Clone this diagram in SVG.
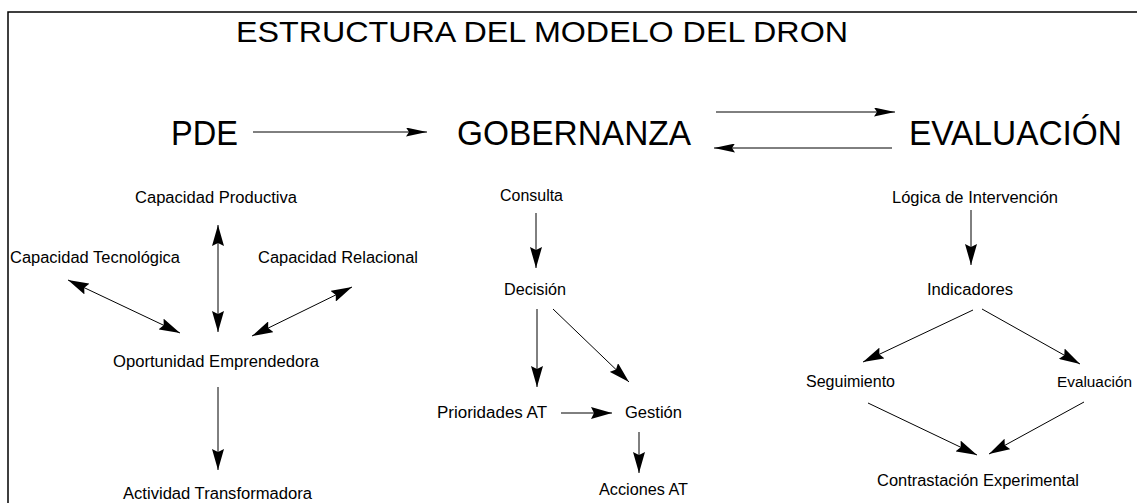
<svg xmlns="http://www.w3.org/2000/svg" width="1137" height="503" viewBox="0 0 1137 503">
<defs>
<style>
text{font-family:"Liberation Sans",Arial,sans-serif;fill:#000}
.t{font-size:30px}
.b{font-size:35px}
.s{font-size:16px}
.c line{stroke:#000;stroke-width:1;fill:none}
.a{marker-end:url(#ah)}
.d{marker-start:url(#ah);marker-end:url(#ah)}
.m{marker-end:url(#ahs)}
</style>
<marker id="ah" markerUnits="userSpaceOnUse" markerWidth="21" markerHeight="12" refX="21" refY="6" orient="auto-start-reverse" viewBox="0 0 21 12">
<path d="M0,0 L21,6 L0,12 L3,6 z" fill="#000"/>
</marker>
<marker id="ahs" markerUnits="userSpaceOnUse" markerWidth="21" markerHeight="9" refX="21" refY="4.5" orient="auto-start-reverse" viewBox="0 0 21 9">
<path d="M0,0 L21,4.5 L0,9 L3,4.5 z" fill="#000"/>
</marker>
</defs>
<rect width="1137" height="503" fill="#fff"/>
<g id="frame" stroke="#000" stroke-width="1.5" fill="none">
<path d="M8,503 V12 H1137"/>
</g>
<g id="title"><text class="t" x="236" y="42" textLength="612" lengthAdjust="spacingAndGlyphs">ESTRUCTURA DEL MODELO DEL DRON</text></g>
<g id="pde"><text class="b" x="171" y="145" textLength="67" lengthAdjust="spacingAndGlyphs">PDE</text></g>
<g id="gobernanza"><text class="b" x="457" y="145" textLength="234" lengthAdjust="spacingAndGlyphs">GOBERNANZA</text></g>
<g id="evaluacion-main"><text class="b" x="909" y="145" textLength="213" lengthAdjust="spacingAndGlyphs">EVALUACIÓN</text></g>
<g id="cap-productiva"><text class="s" x="135" y="203" textLength="162" lengthAdjust="spacingAndGlyphs">Capacidad Productiva</text></g>
<g id="cap-tecnologica"><text class="s" x="10" y="263" textLength="170" lengthAdjust="spacingAndGlyphs">Capacidad Tecnológica</text></g>
<g id="cap-relacional"><text class="s" x="258" y="263" textLength="160" lengthAdjust="spacingAndGlyphs">Capacidad Relacional</text></g>
<g id="oportunidad"><text class="s" x="113" y="367" textLength="206" lengthAdjust="spacingAndGlyphs">Oportunidad Emprendedora</text></g>
<g id="actividad"><text class="s" x="123" y="499" textLength="189" lengthAdjust="spacingAndGlyphs">Actividad Transformadora</text></g>
<g id="consulta"><text class="s" x="500" y="201" textLength="63" lengthAdjust="spacingAndGlyphs">Consulta</text></g>
<g id="decision"><text class="s" x="504" y="295" textLength="62" lengthAdjust="spacingAndGlyphs">Decisión</text></g>
<g id="prioridades"><text class="s" x="437" y="418" textLength="110" lengthAdjust="spacingAndGlyphs">Prioridades AT</text></g>
<g id="gestion"><text class="s" x="625" y="418" textLength="57" lengthAdjust="spacingAndGlyphs">Gestión</text></g>
<g id="acciones"><text class="s" x="599" y="495" textLength="89" lengthAdjust="spacingAndGlyphs">Acciones AT</text></g>
<g id="logica"><text class="s" x="892" y="203" textLength="166" lengthAdjust="spacingAndGlyphs">Lógica de Intervención</text></g>
<g id="indicadores"><text class="s" x="927" y="295" textLength="86" lengthAdjust="spacingAndGlyphs">Indicadores</text></g>
<g id="seguimiento"><text class="s" x="806" y="387" textLength="89" lengthAdjust="spacingAndGlyphs">Seguimiento</text></g>
<g id="evaluacion"><text x="1057" y="387" style="font-size:15.5px" textLength="75" lengthAdjust="spacingAndGlyphs">Evaluación</text></g>
<g id="contrastacion"><text class="s" x="877" y="486" textLength="202" lengthAdjust="spacingAndGlyphs">Contrastación Experimental</text></g>
<g id="connectors" class="c">
<line class="m" x1="253" y1="132" x2="427" y2="132"/>
<line class="m" x1="716" y1="112" x2="895" y2="112"/>
<line class="m" x1="892" y1="148" x2="714" y2="148"/>
<line class="d" x1="218" y1="225" x2="218" y2="332"/>
<line class="d" x1="68" y1="280" x2="180" y2="333"/>
<line class="d" x1="352" y1="287" x2="252" y2="336"/>
<line class="a" x1="218" y1="387" x2="218" y2="470"/>
<line class="a" x1="536" y1="213" x2="536" y2="268"/>
<line class="a" x1="537" y1="309" x2="537" y2="387"/>
<line class="a" x1="553" y1="309" x2="629" y2="382"/>
<line class="a" x1="561" y1="413" x2="612" y2="413"/>
<line class="a" x1="639" y1="432" x2="639" y2="473"/>
<line class="a" x1="971" y1="210" x2="971" y2="265"/>
<line class="a" x1="973" y1="310" x2="863" y2="362"/>
<line class="a" x1="982" y1="309" x2="1080" y2="364"/>
<line class="a" x1="868" y1="403" x2="977" y2="455"/>
<line class="a" x1="1084" y1="402" x2="989" y2="454"/>
</g>
</svg>
